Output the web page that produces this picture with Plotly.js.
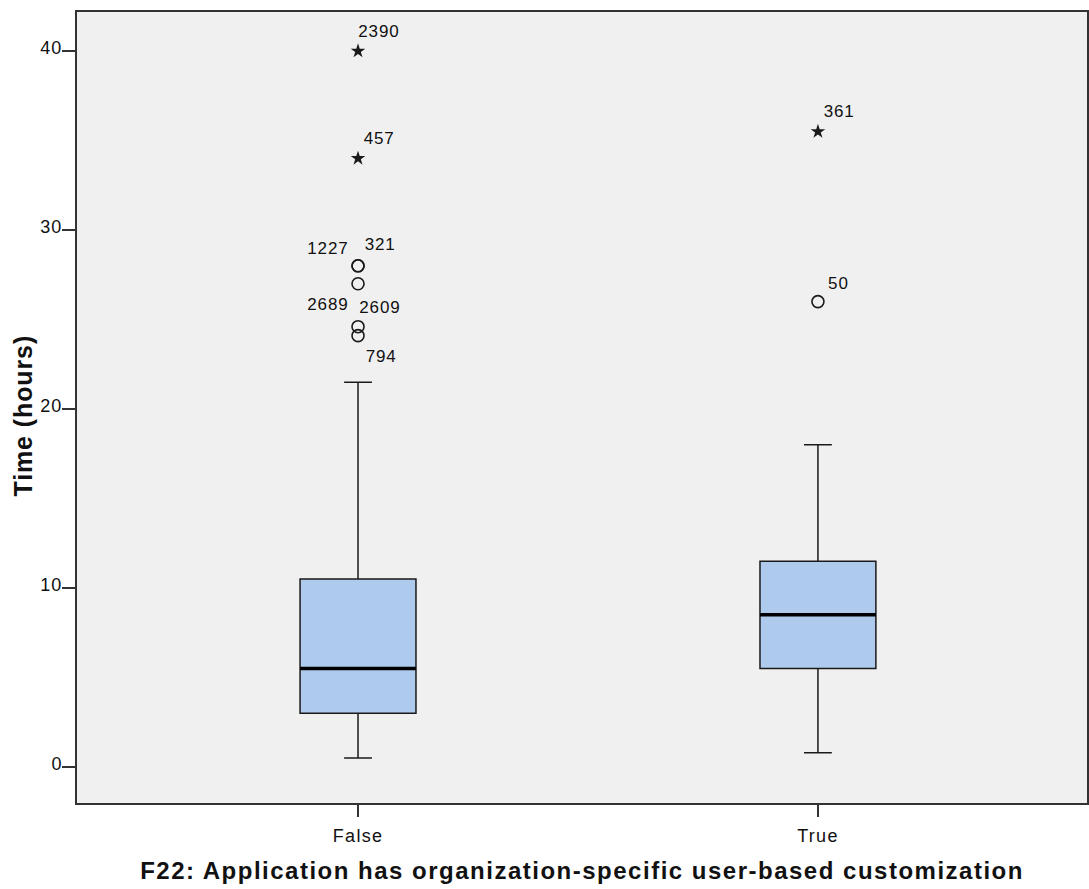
<!DOCTYPE html>
<html>
<head>
<meta charset="utf-8">
<script src="https://cdn.plot.ly/plotly-3.0.1.min.js"></script>
<style>
  html, body { margin: 0; padding: 0; background: #ffffff; }
  #chart { width: 1089px; height: 889px; }
  /* Slightly open tracking, Helvetica-style */
  #chart .xtitle { letter-spacing: 1.5px; }
  #chart .xtick text { letter-spacing: 1.3px; }
  #chart .ytick text { letter-spacing: 1px; }
  #chart .annotation-text { letter-spacing: 0.9px; }
</style>
</head>
<body>
<div id="chart"></div>
<script>
// Groups on the x axis
const categories = ["False", "True"];

// Five-number summaries per group (hours)
const lowerFence = [0.5, 0.8];
const q1 = [3.0, 5.5];
const median = [5.5, 8.5];
const q3 = [10.5, 11.5];
const upperFence = [21.5, 18.0];

// Outliers (circles) and extreme values (stars)
const outlierGroup = ["False", "False", "False", "False", "False", "True"];
const outlierValue = [28, 28, 27, 24.6, 24.1, 26];

const extremeGroup = ["False", "False", "True"];
const extremeValue = [40, 34, 35.5];
const extremeLabel = ["2390", "457", "361"];

// Case labels for the outliers: the point each belongs to and a pixel offset
const caseLabels = [
  {group: "False", value: 28,   text: "321",  dx: 6,   dy: -21},
  {group: "False", value: 28,   text: "1227", dx: -51, dy: -17},
  {group: "False", value: 24.6, text: "2689", dx: -51, dy: -22},
  {group: "False", value: 24.6, text: "2609", dx: 1,   dy: -19},
  {group: "False", value: 24.1, text: "794",  dx: 7,   dy: 21},
  {group: "True",  value: 26,   text: "50",   dx: 9,   dy: -18}
];
const extremeDx = [0, 5, 5];
const extremeDy = [-20, -20, -20];

const yTitle = "Time (hours)";
const xTitle = "F22: Application has organization-specific user-based customization";

const boxFill = "#aecbee";
const ink = "#1a1a1a";
const boxWidth = 0.252;

const traces = [
  {
    type: "box",
    x: categories,
    q1: q1,
    median: median,
    q3: q3,
    lowerfence: lowerFence,
    upperfence: upperFence,
    boxpoints: false,
    fillcolor: boxFill,
    line: {color: ink, width: 1.5},
    width: boxWidth,
    whiskerwidth: 0.24,
    hoverinfo: "skip",
    showlegend: false
  },
  {
    type: "scatter",
    mode: "markers",
    x: outlierGroup,
    y: outlierValue,
    marker: {symbol: "circle-open", size: 12, color: ink, line: {width: 1.6, color: ink}},
    showlegend: false,
    hoverinfo: "skip"
  },
  {
    type: "scatter",
    mode: "markers",
    x: extremeGroup,
    y: extremeValue,
    marker: {symbol: "star", size: 11, color: ink, line: {width: 0}},
    showlegend: false,
    hoverinfo: "skip"
  }
];

// Heavier median strokes across each box
const shapes = median.map((m, i) => ({
  type: "line",
  xref: "x", yref: "y",
  x0: i - boxWidth / 2, x1: i + boxWidth / 2,
  y0: m, y1: m,
  line: {color: "#000000", width: 3.5}
}));

const labelFont = {family: "Liberation Sans, Arial, sans-serif", size: 17, color: "#111111"};

const annotations = caseLabels.map(c => ({
  x: c.group, y: c.value, xref: "x", yref: "y",
  text: c.text, showarrow: false,
  xanchor: "left", yanchor: "middle",
  xshift: c.dx, yshift: -c.dy,
  font: labelFont
})).concat(extremeGroup.map((g, i) => ({
  x: g, y: extremeValue[i], xref: "x", yref: "y",
  text: extremeLabel[i], showarrow: false,
  xanchor: "left", yanchor: "middle",
  xshift: extremeDx[i], yshift: -extremeDy[i],
  font: labelFont
}))).concat([{
  // vertical axis title, set a little below the plot's middle
  xref: "paper", yref: "paper",
  x: 0, y: 0.489,
  xanchor: "center", yanchor: "middle",
  xshift: -54,
  textangle: -90,
  showarrow: false,
  text: yTitle,
  font: {family: "Liberation Sans, Arial, sans-serif", size: 25, color: "#111111", weight: "bold"}
}]);

const layout = {
  width: 1089,
  height: 889,
  margin: {l: 77, r: 2, t: 12, b: 86},
  paper_bgcolor: "#ffffff",
  plot_bgcolor: "#f0f0f0",
  showlegend: false,
  shapes: shapes,
  annotations: annotations,
  xaxis: {
    type: "category",
    categoryorder: "array",
    categoryarray: categories,
    range: [-0.611, 1.585],
    showgrid: false,
    zeroline: false,
    showline: true,
    mirror: true,
    linecolor: "#333333",
    linewidth: 2,
    ticks: "outside",
    ticklen: 12,
    tickwidth: 1.3,
    tickcolor: "#333333",
    ticklabelstandoff: 3,
    tickfont: {family: "Liberation Sans, Arial, sans-serif", size: 18, color: "#111111"},
    title: {
      text: xTitle,
      font: {family: "Liberation Sans, Arial, sans-serif", size: 24, color: "#111111", weight: "bold"},
      standoff: 18
    }
  },
  yaxis: {
    range: [-2.01, 42.18],
    tickvals: [0, 10, 20, 30, 40],
    showgrid: false,
    zeroline: false,
    showline: true,
    mirror: true,
    linecolor: "#333333",
    linewidth: 2,
    ticks: "outside",
    ticklen: 13,
    tickwidth: 1.3,
    tickcolor: "#333333",
    ticklabelshift: -3,
    ticklabelstandoff: -4,
    tickfont: {family: "Liberation Sans, Arial, sans-serif", size: 18, color: "#111111"}
  }
};

Plotly.newPlot("chart", traces, layout, {displayModeBar: false, staticPlot: true});
</script>
</body>
</html>
